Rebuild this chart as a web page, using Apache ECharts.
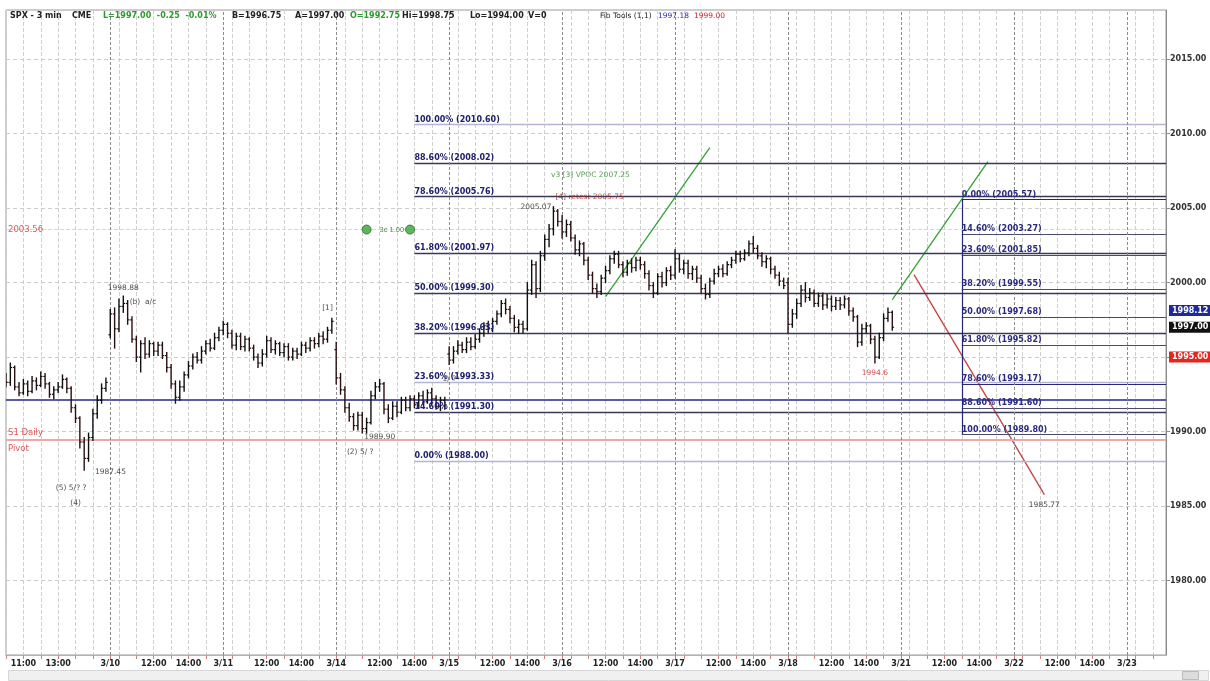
<!DOCTYPE html>
<html><head><meta charset="utf-8">
<script src="https://cdn.jsdelivr.net/npm/echarts@6/dist/echarts.min.js"></script>
<style>html,body{margin:0;padding:0;background:#fff}#c{width:1210px;height:681px}</style>
</head><body><div id="c"></div>
<script>
// ---------- axis definitions ----------
const sessionTimes = ['9:30','9:45','10:00','10:15','10:30','10:45','11:00','11:15','11:30','11:45','12:00','12:15','12:30','12:45','13:00','13:15','13:30','13:45','14:00','14:15','14:30','14:45','15:00','15:15','15:30','15:45'];
const dayLabels = ['3/9','3/10','3/11','3/14','3/15','3/16','3/17','3/18','3/21','3/22','3/23'];
const firstSlot = 2, lastSlot = 9;
const yTickValues = [1980, 1985, 1990, 1995, 2000, 2005, 2010, 2015];

// ---------- 15-min bars per day: [open, close, low, high] ----------
const bars0309 = [
 [1993.6,1993.3,1993.0,1993.9],[1993.3,1994.3,1993.1,1994.6],[1994.3,1993.0,1992.8,1994.4],[1993.0,1992.6,1992.4,1993.3],
 [1992.6,1993.2,1992.5,1993.5],[1993.2,1992.7,1992.4,1993.4],[1992.7,1993.4,1992.6,1993.7],[1993.4,1993.1,1992.8,1993.6],
 [1993.1,1993.7,1993.0,1994.0],[1993.7,1993.2,1992.9,1993.9],[1993.2,1992.5,1992.3,1993.3],[1992.5,1992.8,1992.2,1993.0],
 [1992.8,1993.0,1992.6,1993.3],[1993.0,1993.5,1992.9,1993.8],[1993.5,1992.9,1992.6,1993.6],[1992.9,1991.6,1991.3,1993.0],
 [1991.6,1990.9,1990.6,1991.8],[1990.9,1989.3,1988.9,1991.0],[1989.3,1988.2,1987.4,1989.6],[1988.2,1989.6,1988.0,1989.9],
 [1989.6,1991.2,1989.4,1991.5],[1991.2,1992.1,1990.9,1992.4],[1992.1,1992.9,1991.9,1993.2],[1992.9,1993.3,1992.7,1993.6]];
const bars0310 = [
 [1996.5,1997.9,1996.3,1998.2],[1997.9,1996.9,1995.6,1998.3],[1996.9,1998.4,1996.7,1998.9],[1998.4,1998.6,1998.0,1999.1],
 [1998.6,1997.5,1997.2,1998.8],[1997.5,1996.2,1996.0,1997.7],[1996.2,1995.0,1994.7,1996.4],[1995.0,1995.9,1994.0,1996.1],
 [1995.9,1995.2,1994.9,1996.3],[1995.2,1995.9,1995.0,1996.1],[1995.9,1995.4,1995.1,1996.0],[1995.4,1995.8,1995.1,1996.0],
 [1995.8,1995.1,1994.9,1996.0],[1995.1,1994.3,1994.0,1995.3],[1994.3,1993.2,1992.9,1994.5],[1993.2,1992.3,1991.9,1993.4],
 [1992.3,1993.0,1992.1,1993.4],[1993.0,1993.8,1992.7,1994.0],[1993.8,1994.4,1993.6,1994.7],[1994.4,1995.0,1994.2,1995.2],
 [1995.0,1994.8,1994.6,1995.3],[1994.8,1995.4,1994.6,1995.7],[1995.4,1995.9,1995.2,1996.1],[1995.9,1995.6,1995.4,1996.2],
 [1995.6,1996.3,1995.5,1996.6],[1996.3,1996.8,1996.1,1997.0]];
const bars0311 = [
 [1996.8,1997.2,1996.5,1997.4],[1997.2,1996.6,1996.3,1997.3],[1996.6,1995.8,1995.6,1996.8],[1995.8,1996.4,1995.5,1996.6],
 [1996.4,1995.7,1995.5,1996.6],[1995.7,1996.2,1995.4,1996.4],[1996.2,1995.6,1995.4,1996.3],[1995.6,1995.0,1994.8,1995.8],
 [1995.0,1994.6,1994.3,1995.2],[1994.6,1995.2,1994.4,1995.5],[1995.2,1996.1,1995.0,1996.4],[1996.1,1995.5,1995.3,1996.3],
 [1995.5,1995.9,1995.2,1996.1],[1995.9,1995.3,1995.1,1996.0],[1995.3,1995.7,1995.0,1995.9],[1995.7,1995.0,1994.8,1995.9],
 [1995.0,1995.4,1994.8,1995.6],[1995.4,1995.2,1994.9,1995.6],[1995.2,1995.8,1995.1,1996.0],[1995.8,1995.6,1995.3,1996.0],
 [1995.6,1996.1,1995.4,1996.3],[1996.1,1995.9,1995.6,1996.3],[1995.9,1996.4,1995.7,1996.6],[1996.4,1996.2,1995.9,1996.7],
 [1996.2,1996.8,1996.0,1997.0],[1996.8,1997.4,1996.6,1997.6]];
const bars0314 = [
 [1995.5,1993.6,1993.2,1996.0],[1993.6,1992.8,1992.5,1993.9],[1992.8,1991.6,1991.3,1993.0],[1991.6,1991.0,1990.7,1991.9],
 [1991.0,1990.4,1990.1,1991.2],[1990.4,1991.1,1990.1,1991.3],[1991.1,1990.2,1989.9,1991.3],[1990.2,1990.6,1989.9,1990.9],
 [1990.6,1992.4,1990.5,1992.7],[1992.4,1993.0,1992.2,1993.3],[1993.0,1993.2,1992.7,1993.5],[1993.2,1991.5,1991.2,1993.3],
 [1991.5,1990.9,1990.6,1991.8],[1990.9,1991.7,1990.8,1992.0],[1991.7,1991.3,1991.0,1992.0],[1991.3,1992.1,1991.2,1992.3],
 [1992.1,1991.6,1991.4,1992.3],[1991.6,1992.2,1991.4,1992.4],[1992.2,1991.8,1991.6,1992.4],[1991.8,1992.4,1991.6,1992.6],
 [1992.4,1992.0,1991.8,1992.7],[1992.0,1992.6,1991.9,1992.8],[1992.6,1992.2,1991.8,1992.9],[1992.2,1991.7,1991.5,1992.4],
 [1991.7,1992.1,1991.4,1992.3],[1992.1,1991.8,1991.5,1992.3]];
const bars0315 = [
 [1995.2,1994.8,1994.5,1995.7],[1994.8,1995.4,1994.6,1995.7],[1995.4,1995.8,1995.2,1996.1],[1995.8,1995.5,1995.3,1996.0],
 [1995.5,1996.0,1995.3,1996.3],[1996.0,1995.7,1995.5,1996.3],[1995.7,1996.2,1995.6,1996.5],[1996.2,1996.6,1996.0,1996.9],
 [1996.6,1997.1,1996.4,1997.3],[1997.1,1996.9,1996.6,1997.4],[1996.9,1997.4,1996.7,1997.6],[1997.4,1997.9,1997.2,1998.1],
 [1997.9,1998.6,1997.7,1998.8],[1998.6,1998.2,1997.9,1998.9],[1998.2,1997.6,1997.3,1998.4],[1997.6,1997.0,1996.7,1997.8],
 [1997.0,1997.2,1996.6,1997.5],[1997.2,1996.9,1996.6,1997.4],[1996.9,1999.5,1996.8,2000.0],[1999.5,2001.2,1999.2,2001.5],
 [2001.2,1999.6,1999.0,2001.4],[1999.6,2001.8,1999.4,2002.1],[2001.8,2002.9,2001.5,2003.2],[2002.9,2003.6,2002.4,2003.9],
 [2003.6,2004.8,2003.2,2005.1],[2004.8,2004.1,2003.8,2004.9]];
const bars0316 = [
 [2004.1,2003.4,2003.0,2004.5],[2003.4,2003.9,2003.1,2004.2],[2003.9,2003.0,2002.8,2004.1],[2003.0,2002.2,2001.9,2003.2],
 [2002.2,2002.6,2001.8,2002.8],[2002.6,2001.5,2001.2,2002.7],[2001.5,2000.5,2000.2,2001.7],[2000.5,1999.6,1999.3,2000.7],
 [1999.6,1999.4,1999.0,1999.9],[1999.4,2000.3,1999.2,2000.5],[2000.3,2000.8,2000.0,2001.1],[2000.8,2001.6,2000.6,2001.8],
 [2001.6,2001.9,2001.3,2002.1],[2001.9,2001.2,2001.0,2002.1],[2001.2,2000.7,2000.4,2001.4],[2000.7,2001.3,2000.5,2001.5],
 [2001.3,2001.0,2000.7,2001.6],[2001.0,2001.5,2000.8,2001.7],[2001.5,2001.2,2000.9,2001.7],[2001.2,2000.6,2000.3,2001.4],
 [2000.6,1999.8,1999.5,2000.8],[1999.8,1999.3,1999.0,2000.0],[1999.3,2000.4,1999.2,2000.6],[2000.4,2000.0,1999.7,2000.7],
 [2000.0,2000.8,1999.8,2001.0],[2000.8,2000.5,2000.2,2001.1]];
const bars0317 = [
 [2000.5,2001.6,2000.3,2002.2],[2001.6,2000.9,2000.7,2001.9],[2000.9,2001.3,2000.6,2001.5],[2001.3,2000.6,2000.3,2001.5],
 [2000.6,2000.9,2000.2,2001.1],[2000.9,2000.3,2000.0,2001.1],[2000.3,1999.6,1999.3,2000.5],[1999.6,1999.2,1998.9,1999.9],
 [1999.2,2000.1,1999.0,2000.3],[2000.1,2000.6,1999.9,2000.9],[2000.6,2000.9,2000.4,2001.1],[2000.9,2000.6,2000.4,2001.2],
 [2000.6,2001.2,2000.5,2001.4],[2001.2,2001.5,2001.0,2001.7],[2001.5,2001.9,2001.3,2002.1],[2001.9,2001.6,2001.4,2002.1],
 [2001.6,2002.0,2001.5,2002.2],[2002.0,2002.6,2001.8,2002.8],[2002.6,2002.3,2002.0,2003.1],[2002.3,2001.8,2001.6,2002.5],
 [2001.8,2001.4,2001.1,2002.0],[2001.4,2001.6,2001.0,2001.8],[2001.6,2000.9,2000.6,2001.7],[2000.9,2000.5,2000.3,2001.1],
 [2000.5,2000.1,1999.8,2000.7],[2000.1,1999.8,1999.6,2000.3]];
const bars0318 = [
 [2000.0,1997.2,1996.6,2000.3],[1997.2,1997.9,1997.0,1998.2],[1997.9,1998.6,1997.6,1998.9],[1998.6,1999.5,1998.4,1999.8],
 [1999.5,1999.0,1998.7,2000.0],[1999.0,1999.3,1998.8,1999.6],[1999.3,1998.6,1998.4,1999.5],[1998.6,1999.1,1998.4,1999.3],
 [1999.1,1998.5,1998.2,1999.3],[1998.5,1998.9,1998.3,1999.2],[1998.9,1998.4,1998.1,1999.1],[1998.4,1998.8,1998.2,1999.0],
 [1998.8,1998.5,1998.2,1999.0],[1998.5,1998.9,1998.3,1999.1],[1998.9,1998.1,1997.8,1999.0],[1998.1,1997.7,1997.4,1998.3],
 [1997.7,1996.0,1995.7,1997.8],[1996.0,1996.9,1995.8,1997.2],[1996.9,1997.1,1996.6,1997.3],[1997.1,1996.2,1995.9,1997.2],
 [1996.2,1995.0,1994.6,1996.4],[1995.0,1996.3,1994.9,1996.6],[1996.3,1997.6,1996.1,1997.9],[1997.6,1998.0,1997.4,1998.3],
 [1998.0,1997.0,1996.8,1998.1]];

// ---------- drawing tools ----------
const fibLevels = [0, 14.6, 23.6, 38.2, 50, 61.8, 78.6, 88.6, 100];
const fibLeftLow = 1988.0, fibLeftHigh = 2010.6, fibLeftStart = '3/14 14:00';
const fibRightHigh = 2005.57, fibRightLow = 1989.8, fibRightStart = '3/21 13:00';
const navyLevel = 1992.15, pinkLevel = 1989.46, upperPivot = 2003.56;
const greenLine1 = [['3/16 12:00', 1999.06], ['3/17 11:30', 2009.06]];
const greenLine2 = [['3/18 15:30', 1998.86], ['3/21 14:30', 2008.12]];
const redLine = [['3/21 10:15', 2000.54], ['3/22 11:15', 1985.77]];
const tagBlue = 1998.12, tagRed = 1995.00;

// ---------- build ----------
const categories = [];
dayLabels.forEach((d, di) => {
  const from = di === 0 ? firstSlot : 0;
  const to = di === dayLabels.length - 1 ? lastSlot : sessionTimes.length - 1;
  for (let s = from; s <= to; s++) categories.push(d + ' ' + sessionTimes[s]);
});
const barDays = [['3/9', firstSlot, bars0309], ['3/10', 0, bars0310], ['3/11', 0, bars0311], ['3/14', 0, bars0314],
  ['3/15', 0, bars0315], ['3/16', 0, bars0316], ['3/17', 0, bars0317], ['3/18', 0, bars0318]];
const ohlcData = [];
barDays.forEach(([d, start, arr]) => arr.forEach((b, i) => {
  ohlcData.push([categories.indexOf(d + ' ' + sessionTimes[start + i]), b[0], b[1], b[2], b[3]]);
}));
const lastClose = ohlcData[ohlcData.length - 1][2];
const lastCat = categories[categories.length - 1];

function xLabel(cat) {
  const [d, t] = cat.split(' ');
  if (d === dayLabels[0]) return (t === '11:00' || t === '13:00') ? t : '';
  if (t === '9:30') return d;
  if (t === '12:00' || t === '14:00') return t;
  return '';
}
function isGrid(cat) {
  const t = cat.split(' ')[1];
  return ['10:00','11:00','12:00','13:00','14:00','15:00'].indexOf(t) >= 0;
}

function renderOHLC(params, api) {
  const x = api.value(0), o = api.value(1), c = api.value(2), l = api.value(3), h = api.value(4);
  const pH = api.coord([x, h]), pL = api.coord([x, l]), pO = api.coord([x, o]), pC = api.coord([x, c]);
  const w = 1.8;
  const col = c >= o ? '#101010' : '#2a1010';
  return { type: 'group', children: [
    { type: 'line', shape: { x1: pH[0], y1: pH[1] - 0.5, x2: pL[0], y2: pL[1] + 0.5 }, style: { stroke: col, lineWidth: 1.4 } },
    { type: 'line', shape: { x1: pO[0] - w, y1: pO[1], x2: pO[0], y2: pO[1] }, style: { stroke: col, lineWidth: 1.2 } },
    { type: 'line', shape: { x1: pC[0], y1: pC[1], x2: pC[0] + w, y2: pC[1] }, style: { stroke: col, lineWidth: 1.2 } }
  ]};
}

const fibLblStyle = { show: true, position: 'insideStartTop', distance: [0, 1], color: '#20206e', fontSize: 8, fontFamily: 'DejaVu Sans', fontWeight: 'bold' };
function fibColor(p) { return (p === 0 || p === 100 || p === 23.6) ? '#b4b4d4' : '#383858'; }
const markLines = [];
fibLevels.forEach(p => {
  const v = fibLeftLow + p / 100 * (fibLeftHigh - fibLeftLow);
  markLines.push([
    { coord: [fibLeftStart, v], lineStyle: { color: fibColor(p), width: 1.4, type: 'solid' },
      label: Object.assign({}, fibLblStyle, { formatter: p.toFixed(2) + '% (' + v.toFixed(2) + ')' }) },
    { coord: [lastCat, v] }]);
});
fibLevels.forEach(p => {
  const v = fibRightHigh - p / 100 * (fibRightHigh - fibRightLow);
  markLines.push([
    { coord: [fibRightStart, v], lineStyle: { color: (p === 0 || p === 78.6) ? '#26267a' : '#4a4a6a', width: 1.2, type: 'solid' },
      label: Object.assign({}, fibLblStyle, { formatter: p.toFixed(2) + '% (' + v.toFixed(2) + ')', color: '#2a2a80' }) },
    { coord: [lastCat, v] }]);
});
markLines.push([{ coord: [fibRightStart, fibRightHigh], lineStyle: { color: '#26267a', width: 1.2, type: 'solid' }, label: { show: false } },
                { coord: [fibRightStart, fibRightLow] }]);
markLines.push({ yAxis: navyLevel, lineStyle: { color: '#24248a', width: 1.6, type: 'solid' }, label: { show: false } });
markLines.push({ yAxis: pinkLevel, lineStyle: { color: '#efa8a8', width: 2, type: 'solid' }, label: { show: false } });
markLines.push({ yAxis: upperPivot, lineStyle: { color: '#f2cccc', width: 1, type: 'dashed' }, label: { show: false } });
dayLabels.slice(1).forEach(d => {
  markLines.push({ xAxis: d + ' 9:30', lineStyle: { color: '#8a8a8a', width: 1, type: [3, 2] }, label: { show: false } });
});
const tag = (v, bg, txt) => ({ yAxis: v, lineStyle: { color: 'rgba(255,255,255,0)', width: 0.1, type: 'solid' },
  label: { show: true, position: 'end', distance: 3, formatter: txt, backgroundColor: bg, color: '#fff', padding: [2, 3, 1, 3], fontSize: 8, fontWeight: 'bold', fontFamily: 'DejaVu Sans' } });
markLines.push(tag(tagBlue, '#1c2a9c', tagBlue.toFixed(2)));
markLines.push(tag(lastClose, '#111111', lastClose.toFixed(2)));
markLines.push(tag(tagRed, '#e5251e', tagRed.toFixed(2)));

const noteFont = { fontSize: 7.5, fontFamily: 'DejaVu Sans', color: '#222' };
const notes = [
  { value: ['3/9 15:00', 1987.3], label: { position: 'right', formatter: '1987.45' } },
  { value: ['3/9 13:45', 1986.6], label: { position: 'bottom', formatter: '(5) 5/? ?' } },
  { value: ['3/9 14:00', 1985.6], label: { position: 'bottom', formatter: '(4)' } },
  { value: ['3/10 10:15', 1999.2], label: { position: 'top', formatter: '1998.88' } },
  { value: ['3/10 10:30', 1998.7], label: { position: 'right', formatter: '(b)  a/c' } },
  { value: ['3/11 15:30', 1997.9], label: { position: 'top', formatter: '[1]' } },
  { value: ['3/14 11:00', 1989.6], label: { position: 'right', formatter: '1989.90' } },
  { value: ['3/14 10:00', 1988.6], label: { position: 'right', formatter: '(2) 5/ ?' } },
  { value: ['3/14 15:30', 1993.5], label: { position: 'right', formatter: '1/ ?' } },
  { value: ['3/15 15:30', 2005.1], label: { position: 'left', formatter: '2005.07' } },
  { value: ['3/15 15:15', 2007.2], label: { position: 'right', formatter: 'v3 [3] VPOC 2007.25', color: '#2a8a2a' } },
  { value: ['3/15 15:30', 2005.75], label: { position: 'right', formatter: '[4] retest 2005.75', color: '#b02020' } },
  { value: ['3/18 14:30', 1994.3], label: { position: 'bottom', formatter: '1994.6', color: '#c02020' } },
  { value: ['3/22 11:15', 1985.5], label: { position: 'bottom', formatter: '1985.77' } },
  { value: ['3/9 10:00', upperPivot], label: { position: 'right', formatter: upperPivot.toFixed(2), color: '#d03030', fontSize: 8.5 } },
  { value: ['3/9 10:00', 1989.9], label: { position: 'right', formatter: 'S1 Daily', color: '#d03030', fontSize: 8.5 } },
  { value: ['3/9 10:00', 1988.85], label: { position: 'right', formatter: 'Pivot', color: '#d03030', fontSize: 8.5 } }
];
const icons = [
  { value: ['3/14 11:15', upperPivot], label: { show: true, position: 'right', formatter: '3c 1.00', fontSize: 7.5, color: '#2a6a2a', distance: 8 } },
  { value: ['3/14 13:45', upperPivot] }
];

const hdrFont = 'bold 8px "DejaVu Sans"';
const hdrFontSmall = '7.5px "DejaVu Sans"';
const header = [
  ['SPX - 3 min', 10, '#222', hdrFont], ['CME', 72, '#222', hdrFont], ['L=' + lastClose.toFixed(2) + '  -0.25  -0.01%', 103, '#2c9a2c', hdrFont],
  ['B=1996.75', 232, '#222', hdrFont], ['A=1997.00', 295, '#222', hdrFont], ['O=1992.75', 350, '#2c9a2c', hdrFont], ['Hi=1998.75', 402, '#222', hdrFont],
  ['Lo=1994.00', 470, '#222', hdrFont], ['V=0', 528, '#222', hdrFont], ['Fib Tools (1,1)', 600, '#222', hdrFontSmall],
  ['1997.18', 658, '#2a2ab0', hdrFontSmall], ['1999.00', 694, '#d02020', hdrFontSmall]
].map(([t, x, c, f]) => ({ type: 'text', left: x, top: 12, z: 100, style: { text: t, fill: c, font: f } }));

const chart = echarts.init(document.getElementById('c'), null, { renderer: 'canvas' });
chart.setOption({
  animation: false,
  backgroundColor: '#ffffff',
  grid: { left: 6, right: 44, top: 10, bottom: 26, show: true, borderColor: '#9a9a9a', borderWidth: 1 },
  xAxis: {
    type: 'category', data: categories, boundaryGap: false,
    axisLine: { show: true, lineStyle: { color: '#e4a0a0' } },
    axisTick: { show: true, interval: (i, v) => isGrid(v) || v.split(' ')[1] === '9:30', length: 4, lineStyle: { color: '#d08080' } },
    axisLabel: { interval: (i, v) => xLabel(v) !== '', formatter: v => xLabel(v), fontSize: 8, color: '#222', fontFamily: 'DejaVu Sans', fontWeight: 'bold', margin: 5, hideOverlap: false },
    splitLine: { show: true, interval: (i, v) => isGrid(v), lineStyle: { color: '#cfcfcf', type: [4, 2], width: 1 } }
  },
  yAxis: {
    type: 'value', position: 'right', min: 1975, max: 2018.3, interval: 5,
    axisLine: { show: true, lineStyle: { color: '#8a8a8a' } },
    axisTick: { show: true, length: 4, lineStyle: { color: '#8a8a8a' } },
    axisLabel: { showMaxLabel: false, showMinLabel: false, fontSize: 8, color: '#333', fontFamily: 'DejaVu Sans', fontWeight: 'bold', margin: 4,
      formatter: v => yTickValues.indexOf(v) >= 0 ? v.toFixed(2) : '' },
    splitLine: { show: true, lineStyle: { color: '#cccccc', type: [4, 3] } }
  },
  graphic: header.concat([
    { type: 'rect', left: 8, top: 670, z: 100, shape: { width: 1200, height: 10 }, style: { fill: '#f0f0f0', stroke: '#d6d6d6' } },
    { type: 'rect', left: 1182, top: 671, z: 101, shape: { width: 16, height: 8 }, style: { fill: '#dcdcdc', stroke: '#bbbbbb' } }
  ]),
  series: [
    { name: 'levels', type: 'line', data: greenLine1, showSymbol: false, z: 3,
      lineStyle: { color: '#35a035', width: 1.3 },
      markLine: { silent: true, symbol: ['none', 'none'], animation: false, precision: 2, data: markLines } },
    { name: 'green2', type: 'line', data: greenLine2, showSymbol: false, z: 3, lineStyle: { color: '#35a035', width: 1.3 } },
    { name: 'red', type: 'line', data: redLine, showSymbol: false, z: 3, lineStyle: { color: '#c84040', width: 1.3 } },
    { name: 'SPX', type: 'custom', renderItem: renderOHLC, data: ohlcData, encode: { x: 0, y: [1, 2, 3, 4] }, z: 5, clip: true },
    { name: 'notes', type: 'scatter', data: notes, symbolSize: 0, z: 6, silent: true,
      label: Object.assign({ show: true, distance: 2 }, noteFont) },
    { name: 'icons', type: 'scatter', data: icons, symbol: 'circle', symbolSize: 9, z: 6, silent: true,
      itemStyle: { color: '#3aa23a', borderColor: '#1f6e1f', borderWidth: 1 } }
  ]
});
</script></body></html>
